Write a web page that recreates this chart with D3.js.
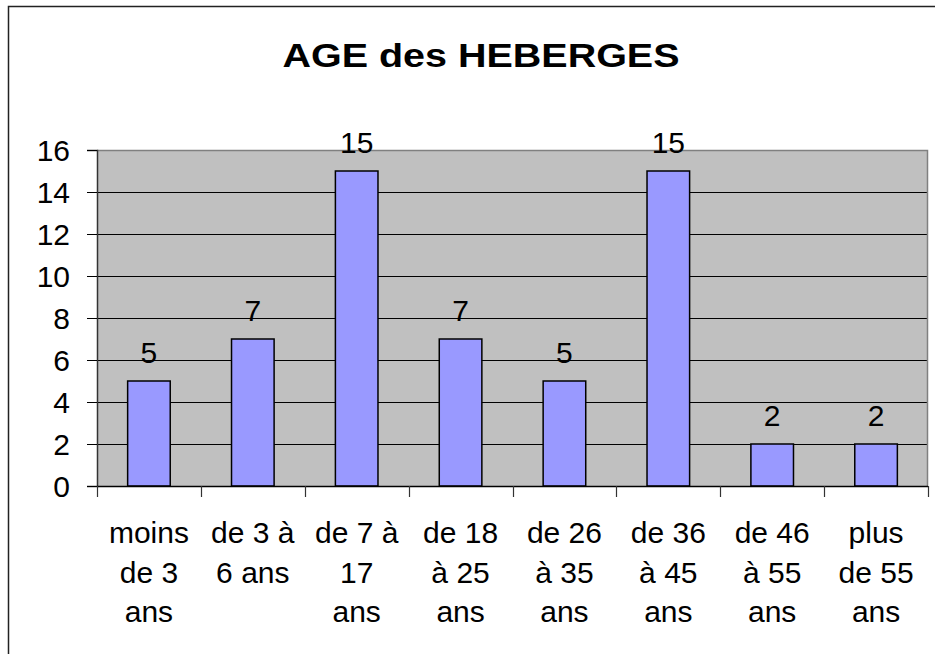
<!DOCTYPE html>
<html>
<head>
<meta charset="utf-8">
<script src="https://cdn.jsdelivr.net/npm/d3@7"></script>
<style>
  body { margin: 0; background: #fff; }
  text { font-family: Arial, "Liberation Sans", sans-serif; fill: #000; }
</style>
</head>
<body>
<svg id="chart" width="935" height="654"></svg>
<script>
// data
var categories = ["moins de 3 ans", "de 3 à 6 ans", "de 7 à 17 ans", "de 18 à 25 ans",
                  "de 26 à 35 ans", "de 36 à 45 ans", "de 46 à 55 ans", "plus de 55 ans"];
var labelLines = [["moins", "de 3", "ans"], ["de 3 à", "6 ans"], ["de 7 à", "17", "ans"],
                  ["de 18", "à 25", "ans"], ["de 26", "à 35", "ans"], ["de 36", "à 45", "ans"],
                  ["de 46", "à 55", "ans"], ["plus", "de 55", "ans"]];
var values = [5, 7, 15, 7, 5, 15, 2, 2];
var yTicks = [0, 2, 4, 6, 8, 10, 12, 14, 16];
var title = "AGE des HEBERGES";

var svg = d3.select("#chart"),
    margin = { top: 150, left: 97, right: 7, bottom: 168 },
    width = +svg.attr("width") - margin.left - margin.right,
    height = +svg.attr("height") - margin.top - margin.bottom;

// outer chart border (cut off at right and bottom)
svg.append("rect")
    .attr("x", 8.5).attr("y", 6.5)
    .attr("width", 960).attr("height", 700)
    .attr("fill", "none").attr("stroke", "#222").attr("stroke-width", 1.5);

svg.append("text")
    .attr("x", 481).attr("y", 67)
    .attr("text-anchor", "middle")
    .attr("textLength", 397).attr("lengthAdjust", "spacingAndGlyphs")
    .style("font-size", "34px").style("font-weight", "bold")
    .text(title);

var g = svg.append("g").attr("transform", "translate(" + margin.left + "," + margin.top + ")");

var x = d3.scaleBand().domain(categories).range([0, width]).paddingInner(0).paddingOuter(0);
var y = d3.scaleLinear().domain([0, 16]).range([height, 0]);

// plot area
g.append("rect")
    .attr("width", width).attr("height", height)
    .attr("fill", "#c0c0c0");

// gridlines
g.selectAll(".grid")
  .data(yTicks.filter(function (d) { return d < 16; }))
  .enter().append("line")
    .attr("class", "grid")
    .attr("x1", 0).attr("x2", width)
    .attr("y1", function (d) { return Math.round(y(d)) + 0.5; })
    .attr("y2", function (d) { return Math.round(y(d)) + 0.5; })
    .attr("stroke", "#000").attr("stroke-width", 1);

// top and right border of plot area
g.append("path")
    .attr("d", "M0,0.5H" + (width - 0.5) + "V" + height)
    .attr("fill", "none").attr("stroke", "#808080").attr("stroke-width", 1.5);

// bars
var bw = x.bandwidth() * 0.41;
g.selectAll(".bar")
  .data(values)
  .enter().append("rect")
    .attr("class", "bar")
    .attr("x", function (d, i) { return x(categories[i]) + (x.bandwidth() - bw) / 2; })
    .attr("y", function (d) { return y(d); })
    .attr("width", bw)
    .attr("height", function (d) { return height - y(d); })
    .attr("fill", "#9999ff").attr("stroke", "#000").attr("stroke-width", 1.5);

// value labels
g.selectAll(".val")
  .data(values)
  .enter().append("text")
    .attr("class", "val")
    .attr("x", function (d, i) { return x(categories[i]) + x.bandwidth() / 2; })
    .attr("y", function (d) { return y(d) - 18; })
    .attr("text-anchor", "middle")
    .style("font-size", "30px")
    .text(function (d) { return d; });

// y axis
var yAxis = g.append("g")
    .call(d3.axisLeft(y).tickValues(yTicks).tickSize(10).tickPadding(17));
yAxis.select(".domain").attr("stroke", "#333").attr("stroke-width", 1.5);
yAxis.selectAll(".tick line").attr("stroke", "#000");
yAxis.selectAll(".tick text").style("font-size", "30px").attr("dy", "0.36em")
    .style("font-family", "Arial, 'Liberation Sans', sans-serif");

// x axis line with ticks at category boundaries
var xAxis = g.append("g").attr("transform", "translate(0," + height + ")");
xAxis.append("line")
    .attr("x1", 0).attr("x2", width).attr("y1", 0.5).attr("y2", 0.5)
    .attr("stroke", "#000").attr("stroke-width", 1.5);
var bounds = categories.map(function (c) { return x(c); }).concat([width]);
xAxis.selectAll(".xt")
  .data(bounds)
  .enter().append("line")
    .attr("class", "xt")
    .attr("x1", function (d) { return Math.round(d) + 0.5; })
    .attr("x2", function (d) { return Math.round(d) + 0.5; })
    .attr("y1", 0).attr("y2", 11)
    .attr("stroke", "#333").attr("stroke-width", 1.2);

// category labels, wrapped
var lab = xAxis.selectAll(".xl")
  .data(labelLines)
  .enter().append("text")
    .attr("class", "xl")
    .attr("text-anchor", "middle")
    .style("font-size", "30px");
lab.selectAll("tspan")
  .data(function (d, i) { return d.map(function (t) { return { t: t, i: i }; }); })
  .enter().append("tspan")
    .attr("x", function (d) { return x(categories[d.i]) + x.bandwidth() / 2; })
    .attr("y", function (d, j) { return 57 + j * 39.5; })
    .text(function (d) { return d.t; });
</script>
</body>
</html>
